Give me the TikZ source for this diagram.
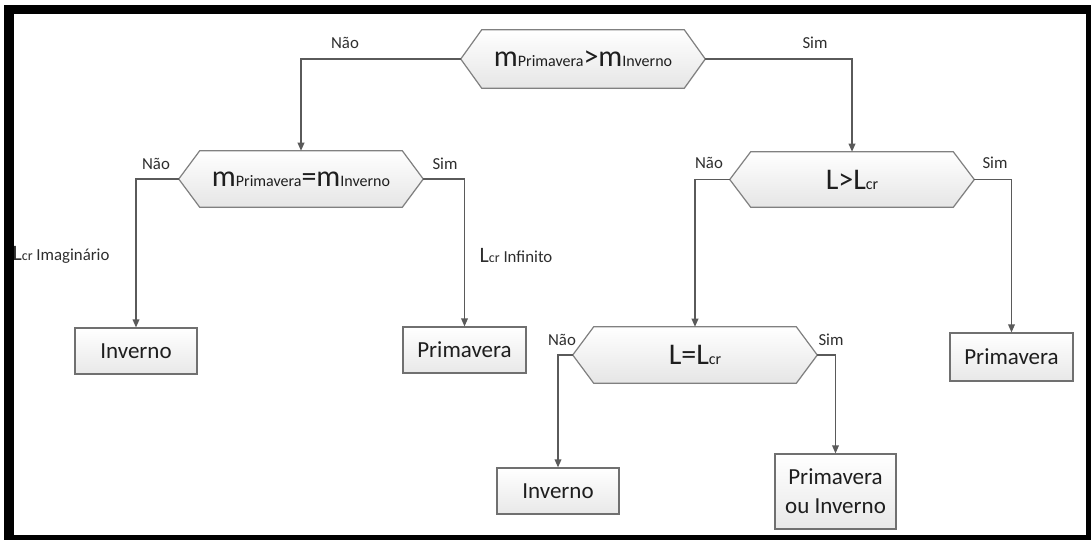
\documentclass[tikz,border=0pt]{standalone}
\usepackage{fontspec}
\setmainfont{Carlito}
\usetikzlibrary{arrows.meta,shadows}
\pgfdeclarelayer{bgA}
\pgfdeclarelayer{bgB}
\pgfsetlayers{bgA,bgB,main}
\definecolor{linegray}{HTML}{5A5A5A}
\definecolor{edgegray}{HTML}{808080}
\definecolor{boxedge}{HTML}{707070}
\definecolor{txt}{HTML}{1E1E1E}
\definecolor{labtxt}{HTML}{2E2E2E}
\newcommand\bigT[1]{{\fontsize{22.5pt}{24pt}\selectfont #1}}
\newcommand\smT[1]{{\fontsize{12pt}{14pt}\selectfont #1}}
\newcommand\hexdraw[1]{%
  \draw[hexline] (#1.west) -- ([xshift=15.75pt]#1.north west) -- ([xshift=-15.75pt]#1.north east)
    -- (#1.east) -- ([xshift=-15.75pt]#1.south east) -- ([xshift=15.75pt]#1.south west) -- cycle;}
\tikzset{
  hexnode/.style={minimum width=183pt, minimum height=#1, inner sep=0pt, text=txt},
  hexline/.style={draw=edgegray, line width=0.9pt, top color=white, bottom color=black!10,
    drop shadow={shadow xshift=0.4pt, shadow yshift=-0.6pt, opacity=0.12, fill=gray}},
  boxnode/.style={draw=boxedge, line width=0.9pt, top color=white, bottom color=black!9,
    text=txt, font=\fontsize{17.25pt}{21.75pt}\selectfont, inner sep=0pt, align=center,
    drop shadow={shadow xshift=0.4pt, shadow yshift=-0.6pt, opacity=0.12, fill=gray}},
  lab/.style={text=labtxt, font=\fontsize{12.6pt}{14pt}\selectfont, inner sep=0pt},
  conn/.style={draw=linegray, line width=0.95pt, -{Triangle[length=6pt,width=5pt]}}
}
\begin{document}
\begin{tikzpicture}[x=0.75pt,y=-0.75pt]
\useasboundingbox (0,0) rectangle (1091,540);
\begin{pgfonlayer}{bgA}
  \fill[white] (0,0) rectangle (1091,540);
  \fill[black] (4,5) rectangle (1091,540);
  \fill[white] (14,14) rectangle (1086,535);
\end{pgfonlayer}

% decisions
\node[hexnode=43.5pt] (h1) at (583,59) {\bigT{m}\smT{Primavera}\bigT{>}\bigT{m}\smT{Inverno}};
\node[hexnode=42pt] (h2) at (301,179) {\bigT{m}\smT{Primavera}\bigT{=}\bigT{m}\smT{Inverno}};
\node[hexnode=41.25pt] (h3) at (852,179.5) {\bigT{L>L}\smT{cr}};
\node[hexnode=42pt] (h4) at (695,355) {\bigT{L=L}\smT{cr}};
\begin{pgfonlayer}{bgB}
  \hexdraw{h1}
  \hexdraw{h2}
  \hexdraw{h3}
  \hexdraw{h4}
\end{pgfonlayer}

% outcomes
\node[boxnode, minimum width=91.5pt, minimum height=34.5pt] (b1) at (136,351) {Inverno};
\node[boxnode, minimum width=92.25pt, minimum height=34.5pt] (b2) at (464.5,350) {Primavera};
\node[boxnode, minimum width=92.25pt, minimum height=36pt] (b3) at (1011.5,357) {Primavera};
\node[boxnode, minimum width=91.5pt, minimum height=34.5pt] (b4) at (558,491) {Inverno};
\node[boxnode, minimum width=90.75pt, minimum height=56.25pt] (b5) at (835.5,491.5) {Primavera\\ou Inverno};

% connectors
\draw[conn] (h1.west) -| (h2.north);
\draw[conn] (h1.east) -| (h3.north);
\draw[conn] (h2.west) -| (b1.north);
\draw[conn] (h2.east) -| (b2.north);
\draw[conn] (h3.west) -| (h4.north);
\draw[conn] (h3.east) -| (b3.north);
\draw[conn] (h4.west) -| (b4.north);
\draw[conn] (h4.east) -| (b5.north);

% labels
\node[lab] (l1) at (345,43) {Não};
\node[lab] (l2) at (815,43) {Sim};
\node[lab] (l3) at (156,164) {Não};
\node[lab] (l4) at (445,164) {Sim};
\node[lab] (l5) at (709,163) {Não};
\node[lab] (l6) at (995,163) {Sim};
\node[lab] (l7) at (562,340) {Não};
\node[lab] (l8) at (831,340) {Sim};
\node[lab] (l9) at (61,255) {{\fontsize{16.5pt}{18pt}\selectfont L}{\fontsize{10.5pt}{12pt}\selectfont cr} Imaginário};
\node[lab] (l10) at (516,255) {{\fontsize{16.5pt}{18pt}\selectfont L}{\fontsize{10.5pt}{12pt}\selectfont cr} Infinito};
\end{tikzpicture}
\end{document}
